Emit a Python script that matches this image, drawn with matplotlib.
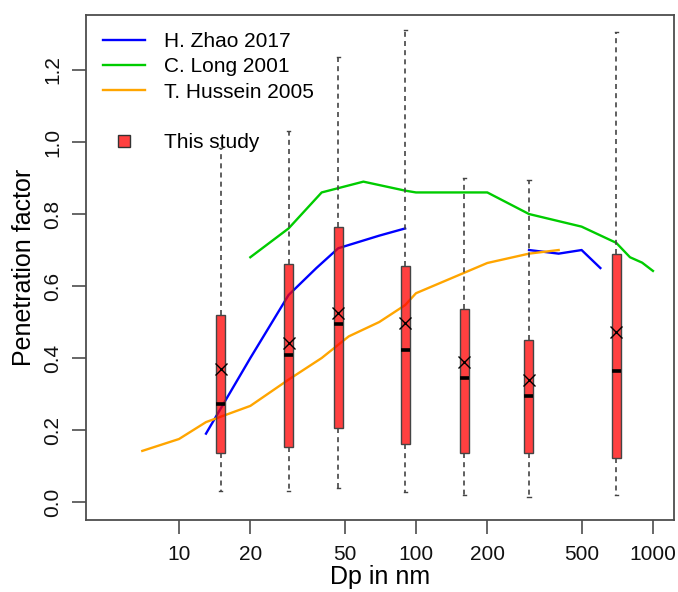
import numpy as np
import matplotlib.pyplot as plt
from matplotlib.lines import Line2D

plt.rcParams['font.family'] = ['Liberation Sans', 'DejaVu Sans']

# literature curves (penetration factor vs particle diameter)
zhao_dp_a = [13, 20, 29, 38, 47, 70, 90]
zhao_pf_a = [0.19, 0.40, 0.575, 0.65, 0.705, 0.74, 0.76]
zhao_dp_b = [300, 400, 500, 600]
zhao_pf_b = [0.70, 0.69, 0.70, 0.65]

long_dp = [20, 29, 40, 60, 90, 100, 200, 300, 500, 700, 800, 900, 1000]
long_pf = [0.68, 0.76, 0.86, 0.89, 0.865, 0.86, 0.86, 0.80, 0.765, 0.72, 0.68, 0.665, 0.642]

hussein_dp = [7, 10, 13, 15, 20, 29, 40, 52, 70, 90, 100, 200, 300, 400]
hussein_pf = [0.142, 0.175, 0.222, 0.237, 0.267, 0.34, 0.40, 0.46, 0.50, 0.547, 0.58, 0.664, 0.69, 0.70]

# this study: box statistics per size bin
box_dp = [15, 29, 47, 90, 160, 300, 700]
box_low = [0.031, 0.031, 0.039, 0.028, 0.020, 0.015, 0.020]
box_q1 = [0.136, 0.153, 0.206, 0.160, 0.135, 0.135, 0.122]
box_med = [0.272, 0.408, 0.494, 0.422, 0.345, 0.295, 0.365]
box_q3 = [0.519, 0.662, 0.765, 0.656, 0.536, 0.450, 0.689]
box_high = [0.983, 1.032, 1.236, 1.312, 0.900, 0.894, 1.305]
box_mean = [0.369, 0.442, 0.525, 0.497, 0.390, 0.340, 0.472]

x_ticks = [10, 20, 50, 100, 200, 500, 1000]
y_ticks = [0.0, 0.2, 0.4, 0.6, 0.8, 1.0, 1.2]

fig = plt.figure(figsize=(6.78, 5.92), dpi=100)
ax = fig.add_axes([0.1268, 0.1216, 0.8673, 0.8531])
ax.set_xscale('log')

ax.plot(zhao_dp_a, zhao_pf_a, color='#0000ff', lw=1.7, zorder=2)
ax.plot(zhao_dp_b, zhao_pf_b, color='#0000ff', lw=1.7, zorder=2)
ax.plot(long_dp, long_pf, color='#00cc00', lw=1.7, zorder=2)
ax.plot(hussein_dp, hussein_pf, color='#ffa500', lw=1.7, zorder=2)

stats = []
for lo, q1, med, q3, hi, mn in zip(box_low, box_q1, box_med, box_q3, box_high, box_mean):
    stats.append({'whislo': lo, 'q1': q1, 'med': med, 'q3': q3, 'whishi': hi,
                  'mean': mn, 'fliers': []})

widths = [p * 0.0875 for p in box_dp]
ax.bxp(stats, positions=box_dp, widths=widths, capwidths=[w * 0.35 for w in widths],
       patch_artist=True, showmeans=True, manage_ticks=False, zorder=3,
       boxprops=dict(facecolor=(1, 0, 0, 0.75), edgecolor='#444444', lw=1.0),
       medianprops=dict(color='black', lw=2.6, solid_capstyle='butt'),
       whiskerprops=dict(color='#444444', lw=1.2, linestyle=(0, (3, 2.5))),
       capprops=dict(color='#444444', lw=1.0),
       meanprops=dict(marker='x', markeredgecolor='black', markersize=9, mew=1.0))

ax.set_xlim(4.05, 1227)
ax.set_ylim(-0.05, 1.353)
ax.set_xticks(x_ticks)
ax.set_xticklabels([str(t) for t in x_ticks])
ax.xaxis.set_minor_locator(plt.NullLocator())
ax.set_yticks(y_ticks)
ax.set_yticklabels([f'{t:.1f}' for t in y_ticks], rotation=90, va='center')

for s in ax.spines.values():
    s.set_color('#4d4d4d')
    s.set_linewidth(1.3)
ax.tick_params(axis='both', length=10, width=1.2, color='#4d4d4d', labelsize=15,
               labelcolor='#111111')
ax.tick_params(axis='x', pad=8)
ax.tick_params(axis='y', pad=7)

ax.set_xlabel('Dp in nm', fontsize=18, labelpad=1)
ax.set_ylabel('Penetration factor', fontsize=18, labelpad=5)

handles = [
    Line2D([], [], color='#0000ff', lw=1.7),
    Line2D([], [], color='#00cc00', lw=1.7),
    Line2D([], [], color='#ffa500', lw=1.7),
    Line2D([], [], linestyle='none'),
    Line2D([], [], linestyle='none', marker='s', markersize=8,
           markerfacecolor='#ff4040', markeredgecolor='#333333'),
]
labels = ['H. Zhao 2017', 'C. Long 2001', 'T. Hussein 2005', '', 'This study']
ax.legend(handles, labels, loc='upper left', bbox_to_anchor=(0.005, 0.995), frameon=False,
          fontsize=15, handlelength=2.0, handletextpad=0.9, labelspacing=0.3,
          borderaxespad=0.3)

fig.savefig('out.png', dpi=100)
